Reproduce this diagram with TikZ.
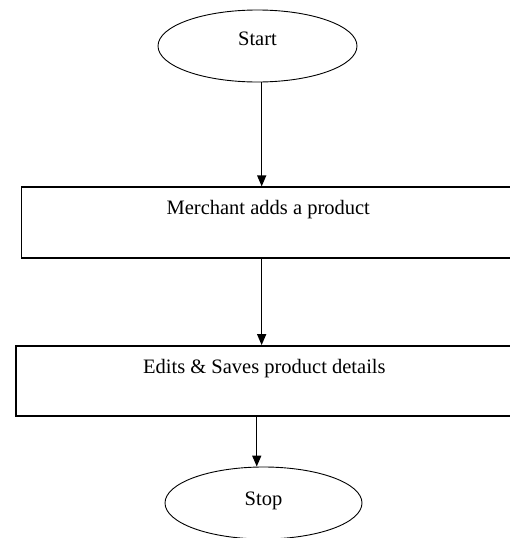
\documentclass[tikz,border=0pt]{standalone}
\usepackage{fontspec}
\setmainfont{Liberation Serif}
\usetikzlibrary{shapes.geometric,arrows.meta}
\begin{document}
\begin{tikzpicture}[x=1pt,y=1pt,
  terminal/.style={draw, line width=0.9pt, ellipse, minimum width=199pt, minimum height=72pt, inner sep=0pt},
  procbox/.style={draw, line width=1.8pt, rectangle, inner sep=0pt},
  caption/.style={font=\fontsize{20.5}{24}\selectfont, anchor=base, inner sep=0pt},
  flow/.style={line width=1.4pt, -{Triangle[length=11pt,width=9pt]}}]
  \useasboundingbox (0,0) rectangle (510,-538);

  % start / stop terminals
  \node[terminal] (start) at (257.5,-46) {};
  \node[caption] (starttxt) at (257.5,-45.5) {Start};
  \node[terminal, minimum width=197pt] (stop) at (263.5,-503) {};
  \node[caption] (stoptxt) at (263.5,-505) {Stop};

  % process steps, text set near the top edge
  \node[procbox, minimum width=493.5pt, minimum height=70.4pt] (b1) at (268.25,-222.5) {};
  \node[caption] (b1txt) at ([yshift=-28.4pt]b1.north) {Merchant adds a product};
  \node[procbox, minimum width=497.3pt, minimum height=70pt] (b2) at (264.35,-381) {};
  \node[caption] (b2txt) at ([yshift=-28.3pt]b2.north) {Edits \& Saves product details};

  % connectors
  \draw[flow] ([xshift=4.2pt]start.south) -- ([xshift=4.2pt]start.south |- b1.north);
  \draw[flow] ([xshift=-6.6pt]b1.south) -- ([xshift=-6.6pt]b1.south |- b2.north);
  \draw[flow] ([xshift=-7.6pt]b2.south) -- ([xshift=-7.6pt]b2.south |- stop.north);
\end{tikzpicture}
\end{document}
